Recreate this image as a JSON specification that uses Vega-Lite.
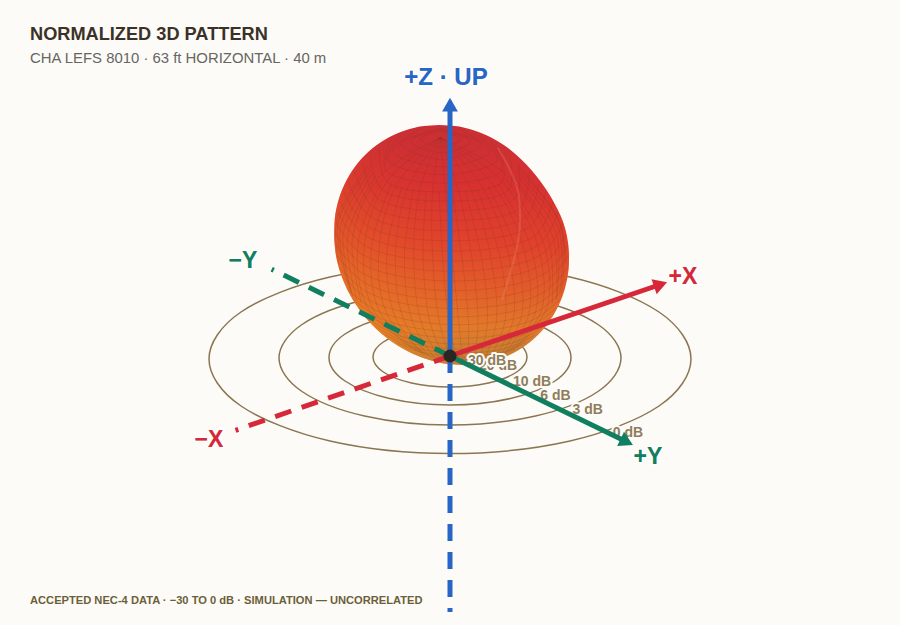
{"$schema":"https://vega.github.io/schema/vega-lite/v6.json","width":900,"height":625,"autosize":{"type":"fit","contains":"padding"},"padding":0,"background":"#fdfbf7","config":{"view":{"stroke":null}},
"datasets":{
"rings":[
{"r":"0 dB","x":241,"y":-3},{"r":"0 dB","x":209,"y":44},{"r":"0 dB","x":120,"y":79},{"r":"0 dB","x":0,"y":91.5},{"r":"0 dB","x":-120,"y":79},{"r":"0 dB","x":-209,"y":44},{"r":"0 dB","x":-241,"y":-3},{"r":"0 dB","x":-209,"y":-50},{"r":"0 dB","x":-120,"y":-85},{"r":"0 dB","x":0,"y":-97.5},{"r":"0 dB","x":120,"y":-85},{"r":"0 dB","x":209,"y":-50},
{"r":"3 dB","x":171,"y":-2},{"r":"3 dB","x":148,"y":31.5},{"r":"3 dB","x":85.5,"y":56},{"r":"3 dB","x":0,"y":65},{"r":"3 dB","x":-85.5,"y":56},{"r":"3 dB","x":-148,"y":31.5},{"r":"3 dB","x":-171,"y":-2},{"r":"3 dB","x":-148,"y":-35.5},{"r":"3 dB","x":-85.5,"y":-60},{"r":"3 dB","x":0,"y":-69},{"r":"3 dB","x":85.5,"y":-60},{"r":"3 dB","x":148,"y":-35.5},
{"r":"6 dB","x":121,"y":-1.5},{"r":"6 dB","x":105,"y":22},{"r":"6 dB","x":60.5,"y":39.5},{"r":"6 dB","x":0,"y":46},{"r":"6 dB","x":-60.5,"y":39.5},{"r":"6 dB","x":-105,"y":22},{"r":"6 dB","x":-121,"y":-1.5},{"r":"6 dB","x":-105,"y":-25},{"r":"6 dB","x":-60.5,"y":-42.5},{"r":"6 dB","x":0,"y":-49},{"r":"6 dB","x":60.5,"y":-42.5},{"r":"6 dB","x":105,"y":-25},
{"r":"10 dB","x":77,"y":-1},{"r":"10 dB","x":66.7,"y":14},{"r":"10 dB","x":38.5,"y":25},{"r":"10 dB","x":0,"y":29},{"r":"10 dB","x":-38.5,"y":25},{"r":"10 dB","x":-66.7,"y":14},{"r":"10 dB","x":-77,"y":-1},{"r":"10 dB","x":-66.7,"y":-16},{"r":"10 dB","x":-38.5,"y":-27},{"r":"10 dB","x":0,"y":-31},{"r":"10 dB","x":38.5,"y":-27},{"r":"10 dB","x":66.7,"y":-16}
],
"lobe":[
{"y":231,"l":-10.5,"r":-10.5},{"y":230,"l":-25.4,"r":4.6},{"y":228,"l":-36.2,"r":15.3},{"y":225,"l":-46.4,"r":25.6},{"y":221,"l":-56.3,"r":35.8},{"y":216,"l":-65.6,"r":45.6},{"y":211,"l":-73.2,"r":53.7},{"y":201,"l":-84.9,"r":66.4},{"y":191,"l":-93.7,"r":76.8},{"y":181,"l":-100.5,"r":85.5},{"y":171,"l":-105.8,"r":93},{"y":161,"l":-109.9,"r":99.7},{"y":151,"l":-112.8,"r":105.3},{"y":141,"l":-114.8,"r":110.3},{"y":131,"l":-115.6,"r":114.1},{"y":121,"l":-115.8,"r":116.7},{"y":111,"l":-115.3,"r":118.3},{"y":101,"l":-114.1,"r":119},{"y":91,"l":-111.9,"r":118.9},{"y":81,"l":-108.8,"r":117.8},{"y":71,"l":-104.8,"r":115.8},{"y":61,"l":-99.9,"r":112.9},{"y":51,"l":-93.8,"r":108.8},{"y":41,"l":-86.5,"r":103.5},{"y":31,"l":-77.7,"r":96.7},{"y":21,"l":-66.9,"r":87.9},{"y":11,"l":-53.2,"r":76.2},{"y":6,"l":-44.6,"r":68.6},{"y":1,"l":-34.3,"r":59.3},{"y":-3,"l":-23.6,"r":49.4},{"y":-6,"l":-12.8,"r":39.2},{"y":-8,"l":-1.6,"r":28.4},{"y":-9,"l":13.5,"r":13.5}
],
"streak":[{"x":48,"y":208},{"x":67,"y":169},{"x":70,"y":133},{"x":67,"y":109},{"x":52,"y":56}],
"mesh":[
{"m":"a0","x":12.4,"y":-3.3},{"m":"a0","x":9,"y":31.3},{"m":"a0","x":2.6,"y":94.9},{"m":"a0","x":-4.3,"y":164.1},{"m":"a0","x":-9.8,"y":218.6},
{"m":"a5","x":18.2,"y":-3.2},{"m":"a5","x":18.6,"y":31.5},{"m":"a5","x":12.4,"y":95.1},{"m":"a5","x":2.2,"y":164.2},
{"m":"b5","x":6.6,"y":-3.2},{"m":"b5","x":-0.6,"y":31.5},{"m":"b5","x":-7.2,"y":95.1},{"m":"b5","x":-10.8,"y":164.2},
{"m":"a10","x":24.1,"y":-2.9},{"m":"a10","x":28,"y":31.9},{"m":"a10","x":22.2,"y":95.6},{"m":"a10","x":8.7,"y":164.5},{"m":"a10","x":-9.8,"y":218.6},
{"m":"b10","x":0.7,"y":-2.9},{"m":"b10","x":-10.2,"y":31.9},{"m":"b10","x":-17.2,"y":95.6},{"m":"b10","x":-17.5,"y":164.5},{"m":"b10","x":-9.8,"y":218.6},
{"m":"a15","x":29.7,"y":-2.4},{"m":"a15","x":37.3,"y":32.8},{"m":"a15","x":31.8,"y":96.4},{"m":"a15","x":15.1,"y":165.1},
{"m":"b15","x":-5.1,"y":-2.4},{"m":"b15","x":-19.7,"y":32.8},{"m":"b15","x":-26.8,"y":96.4},{"m":"b15","x":-23.9,"y":165.1},
{"m":"a20","x":35.2,"y":-1.7},{"m":"a20","x":46.3,"y":33.9},{"m":"a20","x":41,"y":97.5},{"m":"a20","x":21.2,"y":165.9},{"m":"a20","x":-9.8,"y":218.6},
{"m":"b20","x":-10.6,"y":-1.7},{"m":"b20","x":-28.9,"y":33.9},{"m":"b20","x":-36.2,"y":97.5},{"m":"b20","x":-30.2,"y":165.9},{"m":"b20","x":-9.8,"y":218.6},
{"m":"a25","x":40.6,"y":-0.8},{"m":"a25","x":55.1,"y":35.3},{"m":"a25","x":50,"y":99},{"m":"a25","x":27.2,"y":166.9},
{"m":"b25","x":-16.2,"y":-0.8},{"m":"b25","x":-37.9,"y":35.3},{"m":"b25","x":-45.6,"y":99},{"m":"b25","x":-36.4,"y":166.9},
{"m":"a30","x":45.7,"y":0.2},{"m":"a30","x":63.4,"y":37},{"m":"a30","x":58.5,"y":100.8},{"m":"a30","x":32.9,"y":168},{"m":"a30","x":-9.8,"y":218.6},
{"m":"b30","x":-21.5,"y":0.2},{"m":"b30","x":-46.6,"y":37},{"m":"b30","x":-54.5,"y":100.8},{"m":"b30","x":-42.3,"y":168},{"m":"b30","x":-9.8,"y":218.6},
{"m":"a35","x":50.5,"y":1.4},{"m":"a35","x":71.3,"y":39.1},{"m":"a35","x":66.7,"y":102.9},{"m":"a35","x":38.4,"y":169.4},
{"m":"b35","x":-26.5,"y":1.4},{"m":"b35","x":-54.9,"y":39.1},{"m":"b35","x":-63.1,"y":102.9},{"m":"b35","x":-48,"y":169.4},
{"m":"a40","x":54.9,"y":2.8},{"m":"a40","x":78.7,"y":41.3},{"m":"a40","x":74.3,"y":105.2},{"m":"a40","x":43.4,"y":171},{"m":"a40","x":-9.8,"y":218.6},
{"m":"b40","x":-25.3,"y":2.8},{"m":"b40","x":-62.7,"y":41.3},{"m":"b40","x":-71.1,"y":105.2},{"m":"b40","x":-53.4,"y":171},{"m":"b40","x":-9.8,"y":218.6},
{"m":"a45","x":59.1,"y":4.4},{"m":"a45","x":85.5,"y":43.9},{"m":"a45","x":81.2,"y":107.8},{"m":"a45","x":48,"y":172.7},
{"m":"b45","x":-29.7,"y":4.4},{"m":"b45","x":-70.1,"y":43.9},{"m":"b45","x":-78.6,"y":107.8},{"m":"b45","x":-58.4,"y":172.7},
{"m":"a50","x":62.9,"y":6},{"m":"a50","x":91.7,"y":46.6},{"m":"a50","x":87.6,"y":110.6},{"m":"a50","x":52.2,"y":174.6},{"m":"a50","x":-9.8,"y":218.6},
{"m":"b50","x":-33.9,"y":6},{"m":"b50","x":-76.9,"y":46.6},{"m":"b50","x":-85.6,"y":110.6},{"m":"b50","x":-63,"y":174.6},{"m":"b50","x":-9.8,"y":218.6},
{"m":"a55","x":66.3,"y":7.9},{"m":"a55","x":97.2,"y":49.6},{"m":"a55","x":93.2,"y":113.6},{"m":"a55","x":56,"y":176.6},
{"m":"b55","x":-37.7,"y":7.9},{"m":"b55","x":-83,"y":49.6},{"m":"b55","x":-91.8,"y":113.6},{"m":"b55","x":-67.2,"y":176.6},
{"m":"a60","x":102.1,"y":52.8},{"m":"a60","x":98.3,"y":116.9},{"m":"a60","x":59.3,"y":178.8},{"m":"a60","x":-9.8,"y":218.6},
{"m":"b60","x":-88.5,"y":52.8},{"m":"b60","x":-97.5,"y":116.9},{"m":"b60","x":-70.9,"y":178.8},{"m":"b60","x":-9.8,"y":218.6},
{"m":"a65","x":106.2,"y":56},{"m":"a65","x":102.5,"y":120.3},{"m":"a65","x":62.1,"y":181},
{"m":"b65","x":-93.2,"y":56},{"m":"b65","x":-102.3,"y":120.3},{"m":"b65","x":-74.1,"y":181},
{"m":"a70","x":107,"y":59.5},{"m":"a70","x":105.9,"y":123.9},{"m":"a70","x":64.5,"y":183.4},
{"m":"b70","x":-97.2,"y":59.5},{"m":"b70","x":-106.5,"y":123.9},{"m":"b70","x":-76.9,"y":183.4},
{"m":"a75","x":110,"y":63.1},{"m":"a75","x":108.6,"y":127.5},{"m":"a75","x":66.1,"y":185.8},
{"m":"b75","x":-98.5,"y":63.1},{"m":"b75","x":-109.8,"y":127.5},{"m":"b75","x":-79.1,"y":185.8},
{"m":"a80","x":112,"y":66.7},{"m":"a80","x":110.3,"y":131.2},{"m":"a80","x":67.4,"y":188.3},
{"m":"b80","x":-100,"y":66.7},{"m":"b80","x":-112.3,"y":131.2},{"m":"b80","x":-80.8,"y":188.3},
{"m":"a85","x":116,"y":92},{"m":"a85","x":109,"y":135.1},{"m":"a85","x":67.9,"y":190.9},
{"m":"b85","x":-111,"y":92},{"m":"b85","x":-113.5,"y":135.1},{"m":"b85","x":-81.9,"y":190.9},
{"m":"p-55","x":-36,"y":7},{"m":"p-55","x":-18.4,"y":-0.4},{"m":"p-55","x":12.4,"y":-3.3},{"m":"p-55","x":42.6,"y":-0.4},{"m":"p-55","x":64.8,"y":7},
{"m":"p-50","x":-54.3,"y":13.8},{"m":"p-50","x":-29.3,"y":4},{"m":"p-50","x":12.2,"y":-0.7},{"m":"p-50","x":52.7,"y":4},{"m":"p-50","x":75.7,"y":13.8},
{"m":"p-45","x":-64.8,"y":21.2},{"m":"p-45","x":-37.4,"y":8.9},{"m":"p-45","x":11.8,"y":2.7},{"m":"p-45","x":59.8,"y":8.9},{"m":"p-45","x":84.8,"y":21.2},
{"m":"p-40","x":-74.5,"y":29.4},{"m":"p-40","x":-44.5,"y":14.3},{"m":"p-40","x":11.4,"y":6.9},{"m":"p-40","x":65.9,"y":14.3},{"m":"p-40","x":92.9,"y":29.4},
{"m":"p-35","x":-83.2,"y":38.1},{"m":"p-35","x":-51.6,"y":20.6},{"m":"p-35","x":10.9,"y":11.9},{"m":"p-35","x":71.6,"y":20.6},{"m":"p-35","x":99.8,"y":38.1},
{"m":"p-30","x":-90.8,"y":47.5},{"m":"p-30","x":-58.5,"y":27.9},{"m":"p-30","x":10.3,"y":17.7},{"m":"p-30","x":77.1,"y":27.9},{"m":"p-30","x":105.6,"y":47.5},
{"m":"p-25","x":-97.5,"y":57.3},{"m":"p-25","x":-65.2,"y":35.8},{"m":"p-25","x":9.7,"y":24.2},{"m":"p-25","x":82.2,"y":35.8},{"m":"p-25","x":110.3,"y":57.3},
{"m":"p-20","x":-103.4,"y":67.6},{"m":"p-20","x":-71.4,"y":44.4},{"m":"p-20","x":9,"y":31.3},{"m":"p-20","x":86.8,"y":44.4},{"m":"p-20","x":114,"y":67.6},
{"m":"p-15","x":-106,"y":78.2},{"m":"p-15","x":-74.4,"y":52.6},{"m":"p-15","x":8.2,"y":39.2},{"m":"p-15","x":88,"y":52.6},{"m":"p-15","x":116.6,"y":78.2},
{"m":"p-10","x":-111,"y":88.9},{"m":"p-10","x":-79.7,"y":62.3},{"m":"p-10","x":7.4,"y":47.4},{"m":"p-10","x":91.5,"y":62.3},{"m":"p-10","x":118,"y":88.9},
{"m":"p-5","x":-113,"y":99.9},{"m":"p-5","x":-81.6,"y":71.2},{"m":"p-5","x":6.5,"y":56.2},{"m":"p-5","x":91.6,"y":71.2},{"m":"p-5","x":118,"y":99.9},
{"m":"p0","x":-114,"y":111},{"m":"p0","x":-85.7,"y":81.7},{"m":"p0","x":5.6,"y":65.4},{"m":"p0","x":93.5,"y":81.7},{"m":"p0","x":118,"y":111},
{"m":"p5","x":-114.5,"y":122.1},{"m":"p5","x":-86.2,"y":91.2},{"m":"p5","x":4.6,"y":75},{"m":"p5","x":92.2,"y":91.2},{"m":"p5","x":116,"y":122.1},
{"m":"p10","x":-114,"y":133.1},{"m":"p10","x":-86.2,"y":100.8},{"m":"p10","x":3.6,"y":84.8},{"m":"p10","x":90.2,"y":100.8},{"m":"p10","x":113,"y":133.1},
{"m":"p15","x":-112.5,"y":143.9},{"m":"p15","x":-85.6,"y":110.6},{"m":"p15","x":2.6,"y":94.9},{"m":"p15","x":87.6,"y":110.6},{"m":"p15","x":108,"y":143.9},
{"m":"p20","x":-110,"y":154.4},{"m":"p20","x":-84.2,"y":120.2},{"m":"p20","x":1.6,"y":104.9},{"m":"p20","x":84.4,"y":120.2},{"m":"p20","x":103,"y":154.4},
{"m":"p25","x":-106.5,"y":164.7},{"m":"p25","x":-82.1,"y":129.9},{"m":"p25","x":0.6,"y":115.2},{"m":"p25","x":80.3,"y":129.9},{"m":"p25","x":96,"y":164.7},
{"m":"p30","x":-102,"y":174.4},{"m":"p30","x":-79.4,"y":139.4},{"m":"p30","x":-0.4,"y":125.3},{"m":"p30","x":75.8,"y":139.4},{"m":"p30","x":89,"y":174.4},
{"m":"p35","x":-95,"y":183.9},{"m":"p35","x":-76.2,"y":148.8},{"m":"p35","x":-1.5,"y":135.5},{"m":"p35","x":70.6,"y":148.8},{"m":"p35","x":79,"y":183.9},
{"m":"p40","x":-87,"y":192.6},{"m":"p40","x":-72.3,"y":157.8},{"m":"p40","x":-2.4,"y":145.3},{"m":"p40","x":64.9,"y":157.8},{"m":"p40","x":69,"y":192.6},
{"m":"p45","x":-80,"y":200.8},{"m":"p45","x":-67.8,"y":166.4},{"m":"p45","x":-3.4,"y":154.9},{"m":"p45","x":58.8,"y":166.4},{"m":"p45","x":60,"y":200.8},
{"m":"p50","x":-71,"y":208.2},{"m":"p50","x":-63,"y":174.6},{"m":"p50","x":-4.3,"y":164.1},{"m":"p50","x":52.2,"y":174.6},{"m":"p50","x":50,"y":208.2},
{"m":"p55","x":-60,"y":214.9},{"m":"p55","x":-64.6,"y":186},{"m":"p55","x":-5.2,"y":172.9},{"m":"p55","x":51.6,"y":186},{"m":"p55","x":41,"y":214.9},
{"m":"p60","x":-49.8,"y":221},{"m":"p60","x":-62.5,"y":196.4},{"m":"p60","x":-6,"y":181.4},{"m":"p60","x":47.5,"y":196.4},{"m":"p60","x":29,"y":221},
{"m":"p65","x":-31.3,"y":226},{"m":"p65","x":-57.2,"y":205.1},{"m":"p65","x":-6.8,"y":189.2},{"m":"p65","x":40.4,"y":205.1},{"m":"p65","x":10.3,"y":226},
{"m":"p70","x":-10.7,"y":227.7},{"m":"p70","x":-49.1,"y":212.1},{"m":"p70","x":-7.5,"y":196.5},{"m":"p70","x":30.9,"y":212.1},{"m":"p70","x":-10.7,"y":227.7},
{"m":"p75","x":-10.6,"y":226.7},{"m":"p75","x":-39.7,"y":214.9},{"m":"p75","x":-8.2,"y":203.1},{"m":"p75","x":20.9,"y":214.9},{"m":"p75","x":-10.6,"y":226.7},
{"m":"p80","x":-10.4,"y":224.9},{"m":"p80","x":-30,"y":217},{"m":"p80","x":-8.8,"y":209.1},{"m":"p80","x":10.8,"y":217},{"m":"p80","x":-10.4,"y":224.9}
],
"axesSolid":[
{"a":"X","x":0,"y":0},{"a":"X","x":209,"y":71},
{"a":"Y","x":0,"y":0},{"a":"Y","x":176,"y":-85.5},
{"a":"Z","x":0,"y":0},{"a":"Z","x":0,"y":245}
],
"axesDashed":[
{"a":"X","x":0,"y":0},{"a":"X","x":-214.5,"y":-74.3},
{"a":"Y","x":0,"y":0},{"a":"Y","x":-178.3,"y":86.7},
{"a":"Z","x":0,"y":0},{"a":"Z","x":0,"y":-256}
],
"heads":[
{"a":"X","x":208.4,"y":70.7,"turn":71.2},
{"a":"Y","x":174.7,"y":-84.9,"turn":115.9},
{"a":"Z","x":0,"y":249,"turn":0}
],
"origin":[{"x":0,"y":0}],
"zLabel":[{"a":"Z","t":"+Z · UP","x":-4,"y":278}],
"axisLabels":[
{"a":"X","t":"+X","x":233,"y":79},
{"a":"Y","t":"+Y","x":198,"y":-101},
{"a":"Y","t":"−Y","x":-207,"y":95},
{"a":"X","t":"−X","x":-241,"y":-84}
],
"ringLabels20":[{"t":"20 dB","x":48,"y":-10}],
"ringLabels":[
{"t":"30 dB","x":37,"y":-5},
{"t":"10 dB","x":82,"y":-26},
{"t":"6 dB","x":105.5,"y":-40},
{"t":"3 dB","x":137.7,"y":-54},
{"t":"0 dB","x":178,"y":-77}
],
"title":[{"t":"NORMALIZED 3D PATTERN","x":-420,"y":321}],
"subtitle":[{"t":"CHA LEFS 8010 · 63 ft HORIZONTAL · 40 m","x":-420,"y":297}],
"footer":[{"t":"ACCEPTED NEC-4 DATA · −30 TO 0 dB · SIMULATION — UNCORRELATED","x":-420,"y":-245}]
},
"encoding":{
"x":{"field":"x","type":"quantitative","scale":{"domain":[-450,450],"nice":false,"zero":false},"axis":null},
"y":{"field":"y","type":"quantitative","scale":{"domain":[-269,356],"nice":false,"zero":false},"axis":null}
},
"layer":[
{"data":{"name":"rings"},"mark":{"type":"line","interpolate":"cardinal-closed","stroke":"#8a7650","strokeWidth":1.5},"encoding":{"detail":{"field":"r"},"order":{"value":null}}},
{"data":{"name":"lobe"},"mark":{"type":"area","orient":"horizontal","interpolate":"monotone","fill":{"gradient":"linear","x1":0,"y1":0,"x2":0,"y2":1,"stops":[{"offset":0,"color":"#c62e35"},{"offset":0.25,"color":"#d63131"},{"offset":0.5,"color":"#e0442c"},{"offset":0.7,"color":"#e2652a"},{"offset":0.85,"color":"#e0862c"},{"offset":0.95,"color":"#bb8c3a"},{"offset":1,"color":"#a68a42"}]}},"encoding":{"x":{"field":"l","type":"quantitative"},"x2":{"field":"r"},"order":{"value":null}}},
{"data":{"name":"lobe"},"mark":{"type":"area","orient":"horizontal","interpolate":"monotone","fill":{"gradient":"linear","x1":0,"y1":0.9,"x2":0.55,"y2":0.35,"stops":[{"offset":0,"color":"rgba(234,140,38,0.8)"},{"offset":0.6,"color":"rgba(232,95,38,0.3)"},{"offset":1,"color":"rgba(226,50,46,0.12)"}]}},"encoding":{"x":{"field":"l","type":"quantitative"},"x2":{"field":"r"},"order":{"value":null}}},
{"data":{"name":"mesh"},"mark":{"type":"line","interpolate":"catmull-rom","stroke":"#6b2f1a","strokeWidth":0.5,"opacity":0.33},"encoding":{"detail":{"field":"m"},"order":{"value":null}}},
{"data":{"name":"streak"},"mark":{"type":"line","interpolate":"catmull-rom","stroke":"#f2b0a0","strokeWidth":2,"opacity":0.18},"encoding":{"order":{"value":null}}},
{"data":{"name":"ringLabels20"},"mark":{"type":"text","font":"Liberation Sans","fontWeight":"bold","fontSize":14,"stroke":"#fdfbf7","strokeWidth":4,"strokeJoin":"round"},"encoding":{"text":{"field":"t"}}},
{"data":{"name":"ringLabels20"},"mark":{"type":"text","font":"Liberation Sans","fontWeight":"bold","fontSize":14,"fill":"#8f7d5c"},"encoding":{"text":{"field":"t"}}},
{"data":{"name":"ringLabels"},"mark":{"type":"text","font":"Liberation Sans","fontWeight":"bold","fontSize":14,"stroke":"#fdfbf7","strokeWidth":4,"strokeJoin":"round"},"encoding":{"text":{"field":"t"}}},
{"data":{"name":"ringLabels"},"mark":{"type":"text","font":"Liberation Sans","fontWeight":"bold","fontSize":14,"fill":"#8f7d5c"},"encoding":{"text":{"field":"t"}}},
{"data":{"name":"axesDashed"},"mark":{"type":"line","strokeDash":[17,11],"strokeWidth":5},"encoding":{"color":{"field":"a","type":"nominal","legend":null,"scale":{"domain":["X","Y","Z"],"range":["#d62839","#0f7f5f","#2766c6"]}},"order":{"value":null}}},
{"data":{"name":"axesSolid"},"mark":{"type":"line","strokeWidth":5},"encoding":{"color":{"field":"a","type":"nominal","legend":null,"scale":{"domain":["X","Y","Z"],"range":["#d62839","#0f7f5f","#2766c6"]}},"order":{"value":null}}},
{"data":{"name":"heads"},"mark":{"type":"point","shape":"triangle","filled":true,"opacity":1,"size":250},"encoding":{"angle":{"field":"turn","type":"quantitative","scale":null},"color":{"field":"a","type":"nominal","legend":null,"scale":{"domain":["X","Y","Z"],"range":["#d62839","#0f7f5f","#2766c6"]}}}},
{"data":{"name":"origin"},"mark":{"type":"circle","color":"#2b2622","opacity":1,"size":170}},
{"data":{"name":"axisLabels"},"mark":{"type":"text","font":"Liberation Sans","fontWeight":"bold","fontSize":23,"stroke":"#ffffff","strokeWidth":3,"strokeOpacity":0.8,"strokeJoin":"round"},"encoding":{"text":{"field":"t"}}},
{"data":{"name":"axisLabels"},"mark":{"type":"text","font":"Liberation Sans","fontWeight":"bold","fontSize":23},"encoding":{"text":{"field":"t"},"color":{"field":"a","type":"nominal","legend":null,"scale":{"domain":["X","Y","Z"],"range":["#d62839","#0f7f5f","#2766c6"]}}}},
{"data":{"name":"zLabel"},"mark":{"type":"text","font":"Liberation Sans","fontWeight":"bold","fontSize":24,"stroke":"#ffffff","strokeWidth":3,"strokeOpacity":0.8,"strokeJoin":"round"},"encoding":{"text":{"field":"t"}}},
{"data":{"name":"zLabel"},"mark":{"type":"text","font":"Liberation Sans","fontWeight":"bold","fontSize":24,"fill":"#2766c6"},"encoding":{"text":{"field":"t"}}},
{"data":{"name":"title"},"mark":{"type":"text","align":"left","font":"Liberation Sans","fontWeight":"bold","fontSize":18.2,"fill":"#3a3228"},"encoding":{"text":{"field":"t"}}},
{"data":{"name":"subtitle"},"mark":{"type":"text","align":"left","font":"Liberation Sans","fontSize":14.9,"fill":"#666662"},"encoding":{"text":{"field":"t"}}},
{"data":{"name":"footer"},"mark":{"type":"text","align":"left","font":"Liberation Sans","fontWeight":"bold","fontSize":11.15,"fill":"#6b5f3a"},"encoding":{"text":{"field":"t"}}}
]}
